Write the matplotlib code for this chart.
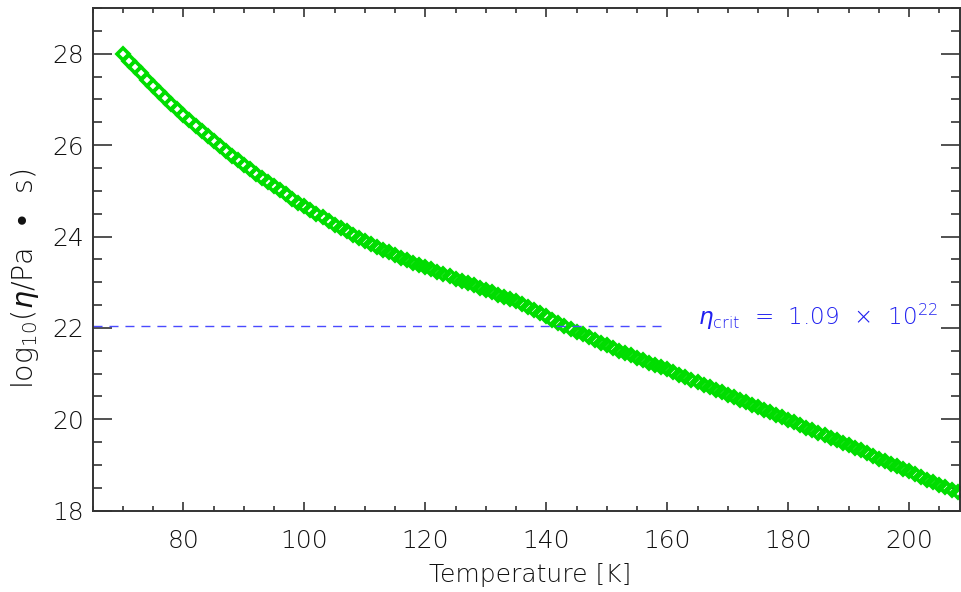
import matplotlib
matplotlib.use("Agg")
import matplotlib.pyplot as plt
from matplotlib.ticker import MultipleLocator

# ---- data ----
temperature_K = list(range(70, 209))
log_viscosity = [
    28.00, 27.85, 27.71, 27.57, 27.43, 27.29, 27.16, 27.03, 26.90, 26.78,   # 70-79
    26.66, 26.54, 26.42, 26.31, 26.20, 26.09, 25.98, 25.87, 25.77, 25.67,   # 80-89
    25.57, 25.47, 25.37, 25.28, 25.19, 25.10, 25.01, 24.92, 24.83, 24.74,   # 90-99
    24.66, 24.58, 24.50, 24.42, 24.34, 24.26, 24.18, 24.11, 24.04, 23.97,   # 100-109
    23.90, 23.83, 23.77, 23.71, 23.65, 23.59, 23.53, 23.48, 23.43, 23.38,   # 110-119
    23.33, 23.28, 23.23, 23.18, 23.13, 23.08, 23.03, 22.98, 22.93, 22.88,   # 120-129
    22.83, 22.78, 22.73, 22.68, 22.63, 22.58, 22.52, 22.46, 22.39, 22.32,   # 130-139
    22.25, 22.18, 22.11, 22.04, 21.98, 21.92, 21.86, 21.80, 21.74, 21.68,   # 140-149
    21.62, 21.56, 21.50, 21.45, 21.40, 21.35, 21.29, 21.24, 21.19, 21.14,   # 150-159
    21.09, 21.03, 20.98, 20.92, 20.87, 20.81, 20.76, 20.70, 20.65, 20.59,   # 160-169
    20.54, 20.48, 20.43, 20.37, 20.32, 20.26, 20.21, 20.15, 20.10, 20.04,   # 170-179
    19.99, 19.93, 19.88, 19.82, 19.77, 19.71, 19.65, 19.60, 19.54, 19.49,   # 180-189
    19.43, 19.37, 19.32, 19.26, 19.20, 19.14, 19.09, 19.03, 18.97, 18.91,   # 190-199
    18.86, 18.80, 18.74, 18.68, 18.63, 18.57, 18.51, 18.45, 18.40,          # 200-208
]
eta_crit_log = 22.037          # log10(1.09e22)
crit_line_x = [65, 160]
crit_label = r"$\eta_{\rm crit}$  =  1.09  ×  10$^{22}$"
x_limits = (65, 208.4)
y_limits = (18, 29)

FONT = ["DejaVu Sans"]
plt.rcParams["font.family"] = FONT
plt.rcParams["font.weight"] = "light"
plt.rcParams["mathtext.fontset"] = "dejavusans"

axis_col = "#333333"
text_col = "#111111"
fig = plt.figure(figsize=(9.61, 5.92), dpi=100)
ax = fig.add_axes([92.7 / 961, 81.3 / 592, 867.3 / 961, 502.7 / 592])

ax.plot(temperature_K, log_viscosity, linestyle="none", marker="D",
        markersize=5.8, markerfacecolor="none", markeredgecolor="#00dd00",
        markeredgewidth=2.6)

ax.plot(crit_line_x, [eta_crit_log, eta_crit_log], color="#4a4aff",
        linewidth=1.0, dashes=(6.5, 5))
ax.text(165, eta_crit_log + 0.02, crit_label, color="#2020f0", fontsize=16.6,
        ha="left", va="baseline")

ax.set_xlim(*x_limits)
ax.set_ylim(*y_limits)
ax.xaxis.set_major_locator(MultipleLocator(20))
ax.xaxis.set_minor_locator(MultipleLocator(5))
ax.yaxis.set_major_locator(MultipleLocator(2))
ax.yaxis.set_minor_locator(MultipleLocator(0.5))

ax.tick_params(which="both", direction="in", top=True, right=True,
               color=axis_col, width=1.2, labelcolor=text_col)
ax.tick_params(axis="x", which="major", length=6.5, pad=13, labelsize=18)
ax.tick_params(axis="x", which="minor", length=3.5)
ax.tick_params(axis="y", which="major", length=13.5, pad=6, labelsize=18)
ax.tick_params(axis="y", which="minor", length=6.5)
for sp in ax.spines.values():
    sp.set_color(axis_col)
    sp.set_linewidth(1.4)

fig.text(530 / 961, 1 - 575 / 592, "Temperature [K]", ha="center", va="center",
         fontsize=18, color=text_col)
fig.text(25 / 961, 1 - 279 / 592, r"log$_{10}$($\eta$/Pa  •  s)", ha="center",
         va="center", rotation=90, fontsize=20.5, color=text_col)

fig.savefig("out.png", dpi=100)
